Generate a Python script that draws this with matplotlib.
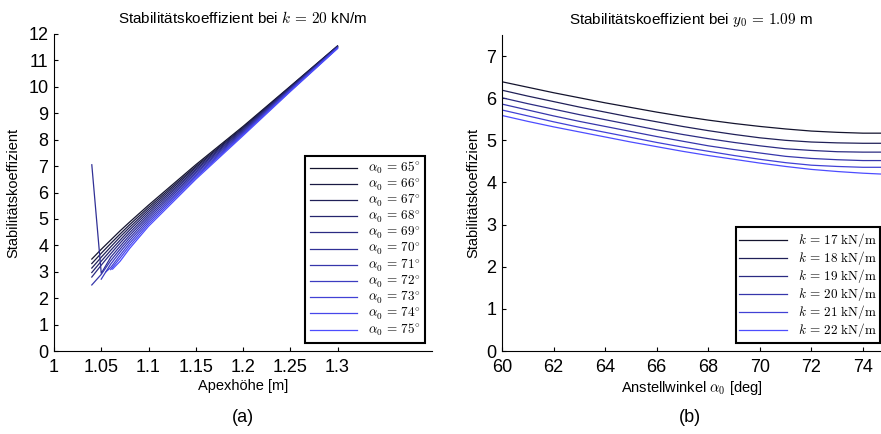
import numpy as np
import matplotlib
matplotlib.use("Agg")
import matplotlib.pyplot as plt
from matplotlib.ticker import FormatStrFormatter

plt.rcParams['mathtext.fontset'] = 'cm'
plt.rcParams['font.family'] = ['Liberation Sans', 'DejaVu Sans']

# ---------------- data (a): Stabilitaetskoeffizient ueber Apexhoehe, k = 20 kN/m
alphas = [65, 66, 67, 68, 69, 70, 71, 72, 73, 74, 75]
grid = [1.04, 1.05, 1.06, 1.07, 1.08, 1.10, 1.15, 1.20, 1.25, 1.30]
apex_x = {
    65: grid, 66: grid, 67: grid, 68: grid, 69: grid, 70: grid, 71: grid,
    72: [1.05, 1.06, 1.07, 1.08, 1.10, 1.15, 1.20, 1.25, 1.30],
    73: [1.055, 1.06, 1.07, 1.08, 1.10, 1.15, 1.20, 1.25, 1.30],
    74: [1.06, 1.07, 1.08, 1.10, 1.15, 1.20, 1.25, 1.30],
    75: [1.062, 1.07, 1.08, 1.10, 1.15, 1.20, 1.25, 1.30],
}
apex_y = {
    65: [3.48, 3.85, 4.20, 4.55, 4.88, 5.52, 7.05, 8.50, 10.02, 11.55],
    66: [3.31, 3.70, 4.07, 4.43, 4.78, 5.44, 6.99, 8.46, 10.00, 11.54],
    67: [3.14, 3.55, 3.94, 4.32, 4.68, 5.36, 6.94, 8.43, 9.98, 11.53],
    68: [2.97, 3.40, 3.81, 4.20, 4.58, 5.28, 6.88, 8.39, 9.96, 11.52],
    69: [2.80, 3.25, 3.68, 4.09, 4.48, 5.20, 6.83, 8.36, 9.94, 11.51],
    70: [7.05, 2.94, 3.55, 3.97, 4.38, 5.12, 6.77, 8.32, 9.92, 11.50],
    71: [2.50, 2.90, 3.42, 3.86, 4.28, 5.04, 6.72, 8.29, 9.90, 11.49],
    72: [2.72, 3.29, 3.75, 4.18, 4.96, 6.66, 8.25, 9.88, 11.48],
    73: [3.00, 3.16, 3.63, 4.08, 4.88, 6.61, 8.22, 9.86, 11.47],
    74: [3.08, 3.52, 3.98, 4.80, 6.56, 8.19, 9.84, 11.46],
    75: [3.10, 3.40, 3.88, 4.72, 6.50, 8.15, 9.82, 11.45],
}

# ---------------- data (b): Stabilitaetskoeffizient ueber Anstellwinkel, y0 = 1.09 m
winkel = [60, 61, 62, 63, 64, 65, 66, 67, 68, 69, 70, 71, 72, 73, 74, 74.7]
kvals = [17, 18, 19, 20, 21, 22]
stab = {
    17: [6.39, 6.26, 6.13, 6.01, 5.89, 5.78, 5.67, 5.57, 5.48, 5.40, 5.33, 5.27, 5.22, 5.19, 5.17, 5.17],
    18: [6.19, 6.05, 5.92, 5.79, 5.67, 5.55, 5.44, 5.33, 5.23, 5.14, 5.06, 5.00, 4.96, 4.94, 4.93, 4.93],
    19: [6.01, 5.87, 5.74, 5.61, 5.49, 5.37, 5.25, 5.14, 5.04, 4.95, 4.87, 4.80, 4.76, 4.73, 4.72, 4.72],
    20: [5.86, 5.72, 5.58, 5.45, 5.33, 5.21, 5.09, 4.98, 4.87, 4.78, 4.70, 4.62, 4.57, 4.54, 4.52, 4.52],
    21: [5.72, 5.58, 5.44, 5.31, 5.19, 5.07, 4.95, 4.84, 4.74, 4.64, 4.55, 4.47, 4.41, 4.38, 4.36, 4.36],
    22: [5.59, 5.45, 5.32, 5.20, 5.08, 4.96, 4.85, 4.74, 4.64, 4.55, 4.46, 4.38, 4.31, 4.26, 4.22, 4.20],
}


def farbe(i, n):
    t = i / (n - 1)
    return (0.08 + 0.22 * t, 0.08 + 0.22 * t, 0.18 + 0.82 * t)


fig = plt.figure(figsize=(8.81, 4.34), dpi=100)
axA = fig.add_axes([54 / 881, 83 / 434, 378 / 881, 317 / 434])
axB = fig.add_axes([502 / 881, 83 / 434, 379 / 881, 316 / 434])

for ax in (axA, axB):
    ax.spines['top'].set_visible(False)
    ax.spines['right'].set_visible(False)
    ax.tick_params(direction='in', length=3, labelsize=13, width=0.8)
    ax.tick_params(axis='y', pad=4)
    ax.tick_params(axis='x', pad=6)

# (a)
for i, a in enumerate(alphas):
    axA.plot(apex_x[a], apex_y[a], color=farbe(i, len(alphas)), lw=0.9,
             label=r'$\alpha_0\,=\,%d^{\circ}$' % a)
axA.set_xlim(1, 1.4)
axA.set_ylim(0, 12)
axA.set_xticks([1, 1.05, 1.1, 1.15, 1.2, 1.25, 1.3])
axA.xaxis.set_major_formatter(FormatStrFormatter('%g'))
axA.set_yticks(range(13))
axA.set_title(r'Stabilitätskoeffizient bei $k\,=\,20$ kN/m', fontsize=11, pad=8)
axA.set_xlabel('Apexhöhe [m]', fontsize=10.5, labelpad=2)
axA.set_ylabel('Stabilitätskoeffizient', fontsize=10.5, labelpad=6)
legA = axA.legend(loc='lower right', bbox_to_anchor=(0.982, 0.025), fontsize=9.5,
                  fancybox=False, framealpha=1, edgecolor='black', borderaxespad=0,
                  handlelength=3.6, labelspacing=0.0, borderpad=0.35)
legA.get_frame().set_linewidth(1.5)

# (b)
for i, k in enumerate(kvals):
    axB.plot(winkel, stab[k], color=farbe(i, len(kvals)), lw=0.9,
             label=r'$k\,=\,%d\ \mathrm{kN/m}$' % k)
axB.set_xlim(60, 74.7)
axB.set_ylim(0, 7.5)
axB.set_xticks(range(60, 75, 2))
axB.set_yticks(range(8))
axB.set_title(r'Stabilitätskoeffizient bei $y_0\,=\,1.09$ m', fontsize=11, pad=8)
axB.set_xlabel(r'Anstellwinkel $\alpha_0$ [deg]', fontsize=10.5, labelpad=2)
axB.set_ylabel('Stabilitätskoeffizient', fontsize=10.5, labelpad=4)
legB = axB.legend(loc='lower right', bbox_to_anchor=(0.998, 0.025), fontsize=9.5,
                  fancybox=False, framealpha=1, edgecolor='black', borderaxespad=0,
                  handlelength=3.6, labelspacing=0.0, borderpad=0.3)
legB.get_frame().set_linewidth(1.5)

fig.text(243 / 881, 1 - 418 / 434, '(a)', ha='center', va='center', fontsize=13)
fig.text(690 / 881, 1 - 418 / 434, '(b)', ha='center', va='center', fontsize=13)

fig.savefig('out.png', dpi=100)
